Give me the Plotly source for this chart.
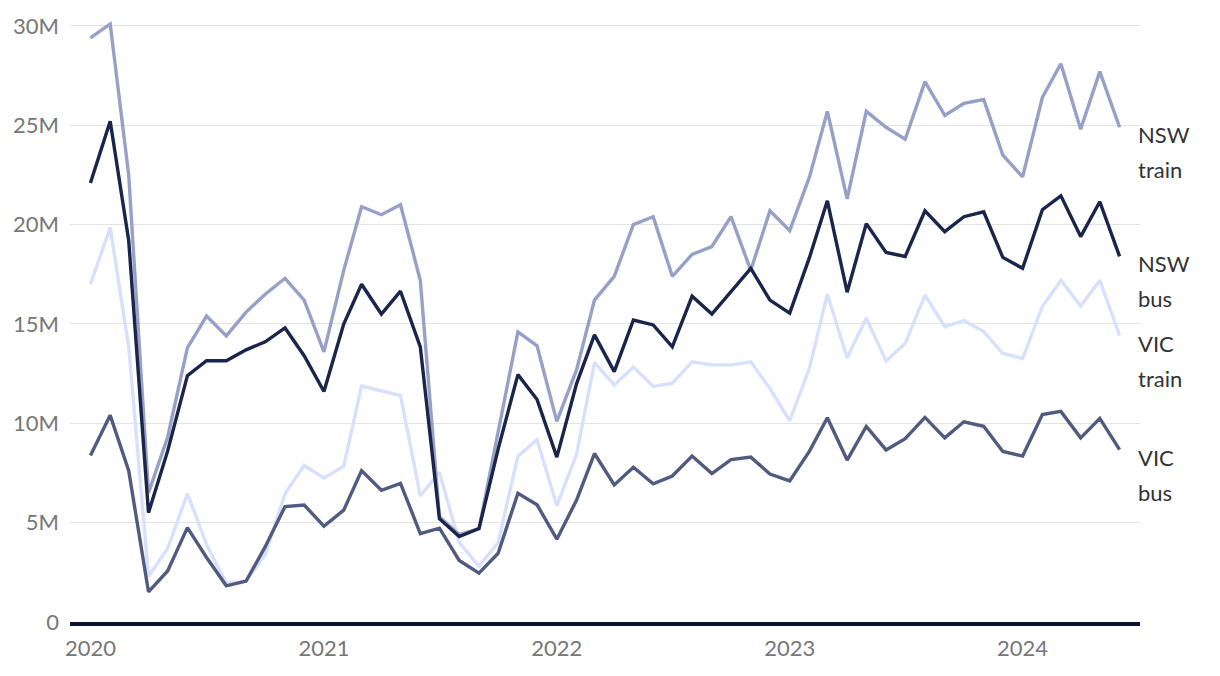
import plotly.graph_objects as go
import pandas as pd

months = pd.date_range("2020-01-01", "2024-06-01", freq="MS").strftime("%Y-%m-%d").tolist()

nsw_train = [29.4, 30.1, 22.5, 6.5, 9.3, 13.8, 15.4, 14.4, 15.6, 16.5, 17.3, 16.2,
             13.6, 17.7, 20.9, 20.5, 21.0, 17.2, 5.3, 4.4, 4.7, 9.6, 14.6, 13.9,
             10.1, 12.7, 16.2, 17.4, 20.0, 20.4, 17.4, 18.5, 18.9, 20.4, 17.7, 20.7,
             19.7, 22.4, 25.7, 21.3, 25.7, 24.9, 24.3, 27.2, 25.5, 26.1, 26.3, 23.5,
             22.4, 26.4, 28.1, 24.8, 27.7, 24.9]
nsw_bus = [22.1, 25.2, 19.2, 5.5, 8.6, 12.4, 13.15, 13.15, 13.7, 14.1, 14.8, 13.4,
           11.6, 15.0, 17.0, 15.5, 16.65, 13.85, 5.2, 4.3, 4.7, 8.7, 12.45, 11.2,
           8.3, 12.0, 14.45, 12.6, 15.2, 14.95, 13.85, 16.4, 15.5, 16.65, 17.8, 16.2,
           15.55, 18.35, 21.2, 16.6, 20.05, 18.6, 18.4, 20.7, 19.65, 20.4, 20.65, 18.35,
           17.8, 20.75, 21.45, 19.4, 21.15, 18.4]
vic_train = [17.0, 19.85, 13.85, 2.3, 3.7, 6.46, 3.9, 1.95, 2.05, 3.4, 6.46, 7.88,
             7.25, 7.84, 11.87, 11.64, 11.4, 6.35, 7.54, 4.0, 2.8, 4.0, 8.35, 9.17,
             5.85, 8.45, 13.06, 11.93, 12.83, 11.86, 12.02, 13.1, 12.94, 12.94, 13.1, 11.75,
             10.13, 12.78, 16.5, 13.3, 15.3, 13.14, 14.02, 16.45, 14.86, 15.17, 14.62, 13.52,
             13.26, 15.88, 17.2, 15.9, 17.2, 14.42]
vic_bus = [8.38, 10.4, 7.62, 1.52, 2.57, 4.75, 3.25, 1.82, 2.06, 3.79, 5.81, 5.89,
           4.82, 5.63, 7.62, 6.63, 6.98, 4.45, 4.72, 3.1, 2.46, 3.46, 6.48, 5.9,
           4.17, 6.14, 8.48, 6.9, 7.79, 6.96, 7.35, 8.35, 7.47, 8.17, 8.3, 7.45,
           7.1, 8.6, 10.28, 8.15, 9.84, 8.66, 9.23, 10.3, 9.27, 10.08, 9.85, 8.58,
           8.35, 10.44, 10.6, 9.27, 10.25, 8.68]

y_tickvals = [0, 5, 10, 15, 20, 25, 30]
y_ticktext = ["0", "5M", "10M", "15M", "20M", "25M", "30M"]
x_tickvals = ["2020-01-01", "2021-01-01", "2022-01-01", "2023-01-01", "2024-01-01"]
x_ticktext = ["2020", "2021", "2022", "2023", "2024"]

series = [
    ("VIC train", vic_train, "#d7e1fe", ("VIC", "train")),
    ("NSW train", nsw_train, "#97a1c8", ("NSW", "train")),
    ("VIC bus", vic_bus, "#515b7f", ("VIC", "bus")),
    ("NSW bus", nsw_bus, "#19254a", ("NSW", "bus")),
]

fig = go.Figure()
for name, vals, color, _ in series:
    fig.add_trace(go.Scatter(x=months, y=vals, mode="lines", name=name,
                             line=dict(color=color, width=3.4),
                             hoverinfo="skip"))

annotations = []
for name, vals, color, (l1, l2) in series:
    for k, word in enumerate((l1, l2)):
        annotations.append(dict(
            x=1, xref="paper", y=vals[-1], yref="y",
            text=word, showarrow=False, xanchor="left", yanchor="top",
            xshift=-4, yshift=8 - 35 * k,
            font=dict(family="Lato", size=22, color="#333333"),
        ))

fig.update_layout(
    width=1220, height=676,
    margin=dict(l=70, r=80, t=18, b=54),
    paper_bgcolor="white", plot_bgcolor="white",
    showlegend=False,
    font=dict(family="Lato", size=22, color="#777777"),
    annotations=annotations,
    xaxis=dict(
        type="date",
        range=["2019-11-30", "2024-07-03"],
        tickvals=x_tickvals, ticktext=x_ticktext,
        showgrid=False, zeroline=False,
        showline=True, linecolor="#0c1434", linewidth=3.5,
        ticks="", tickfont=dict(family="Lato", size=22, color="#777777"),
        ticklabelstandoff=4,
    ),
    yaxis=dict(
        range=[0, 30.3],
        tickvals=y_tickvals, ticktext=y_ticktext,
        showgrid=True, gridcolor="#e3e3e3", gridwidth=1.3,
        zeroline=False, showline=False, ticks="",
        tickfont=dict(family="Lato", size=22, color="#777777"),
        ticklabelstandoff=10,
    ),
)

fig.write_html("out.html")
